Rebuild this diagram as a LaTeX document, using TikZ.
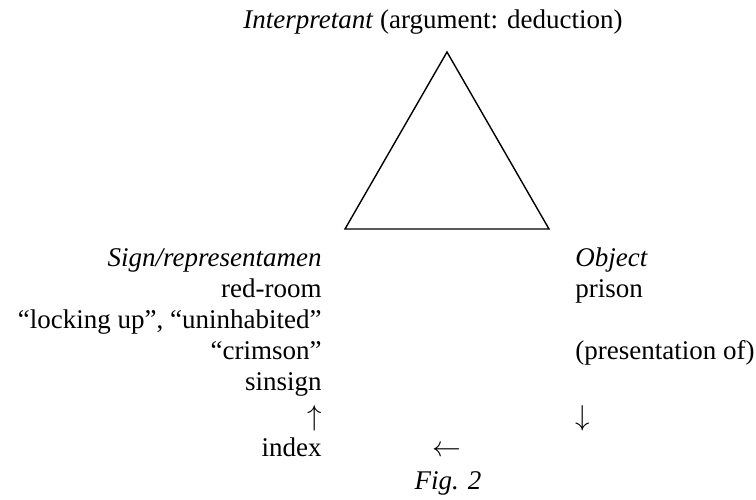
\documentclass[tikz,border=0pt]{standalone}
\usepackage{fontspec}
\setmainfont{Liberation Serif}
\usepackage{tikz}
\usetikzlibrary{positioning}
\tikzset{
  txt/.style={inner sep=0pt, font=\fontsize{13.5}{15}\selectfont},
  lcol/.style={txt, anchor=base east},
  rcol/.style={txt, anchor=base west},
  mid/.style={txt, anchor=base}}

\begin{document}
\begin{tikzpicture}[x=0.5pt, y=-0.5pt]
  \useasboundingbox (0,0) rectangle (756,499);
  \coordinate (top) at (447,52); \coordinate (bl) at (345,229); \coordinate (br) at (549,229);
  \draw[line width=0.7pt, line join=miter] (top) -- (bl) -- (br) -- cycle;
  \node[mid] (interp) at (433,28) {\textit{Interpretant} (argument: deduction)};
  \node[lcol] (sign) at (322,266) {\textit{Sign/representamen}};
  \node[lcol] (redroom) at (322,297) {red-room};
  \node[lcol] (locking) at (322,328) {“locking up”, “uninhabited”};
  \node[lcol] (crimson) at (322,359) {“crimson”};
  \node[lcol] (sinsign) at (322,390) {sinsign};
  \node[lcol] (up) at (322,425) {$\uparrow$};
  \node[lcol] (index) at (322,456) {index};
  \node[rcol] (object) at (575,266) {\textit{Object}};
  \node[rcol] (prison) at (575,297) {prison};
  \node[rcol] (present) at (575,359) {(presentation of)};
  \node[rcol] (down) at (575,425) {$\downarrow$};
  \node[mid] (left) at (447,456) {$\leftarrow$};
  \node[mid] (fig) at (448,489) {\textit{Fig. 2}};
\end{tikzpicture}
\end{document}
